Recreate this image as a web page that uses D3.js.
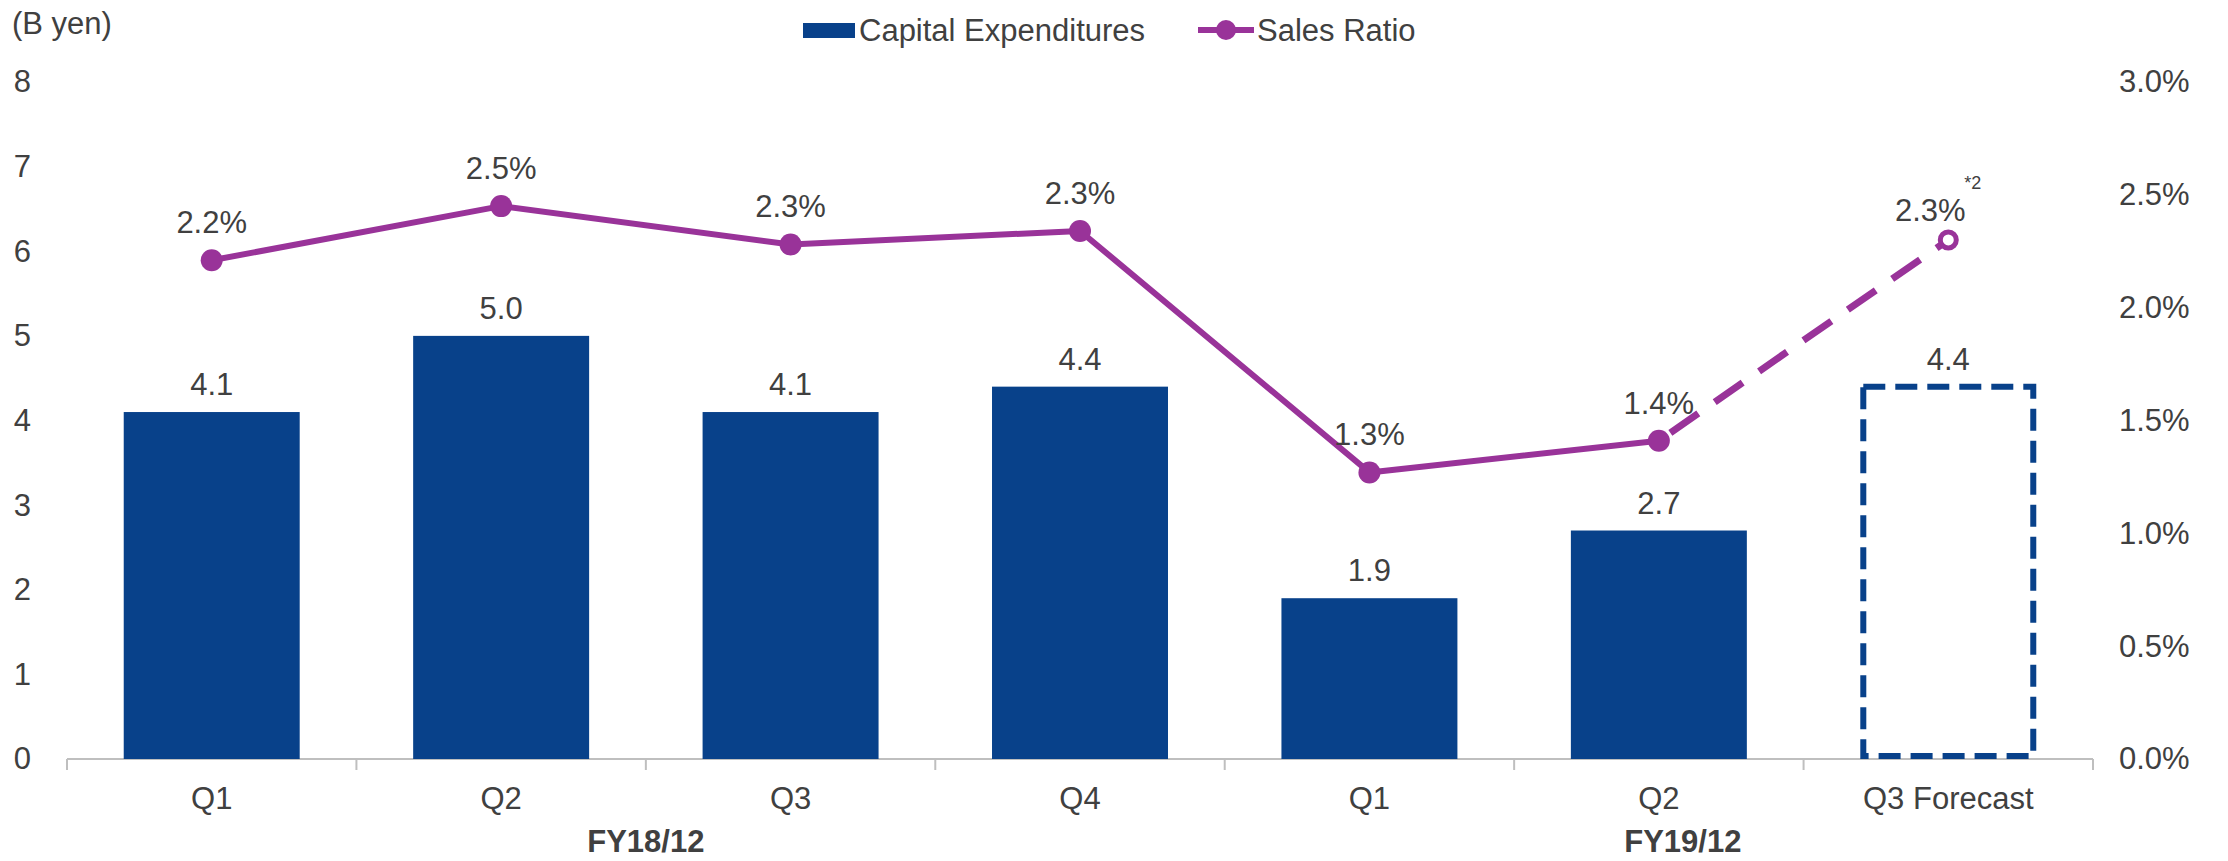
<!DOCTYPE html>
<html>
<head>
<meta charset="utf-8">
<script src="https://cdn.jsdelivr.net/npm/d3@7"></script>
<style>
  body { margin: 0; background: #fff; }
  text { font-family: "Liberation Sans", Arial, sans-serif; fill: #404040; }
</style>
</head>
<body>
<svg id="svg" width="2228" height="861"></svg>
<script>
// chart data
var categories = ["Q1", "Q2", "Q3", "Q4", "Q1", "Q2", "Q3 Forecast"];
var fiscalYears = ["FY18/12", "FY19/12"];
var yearOfCategory = [0, 0, 0, 0, 1, 1, 1];
var capex = [4.1, 5.0, 4.1, 4.4, 1.9, 2.7, 4.4];
var salesRatio = [2.21, 2.45, 2.28, 2.34, 1.27, 1.41, 2.30];
var ratioLabels = ["2.2%", "2.5%", "2.3%", "2.3%", "1.3%", "1.4%", "2.3%"];
var isForecast = [false, false, false, false, false, false, true];
var leftTicks = [0, 1, 2, 3, 4, 5, 6, 7, 8];
var rightTicks = [0, 0.5, 1.0, 1.5, 2.0, 2.5, 3.0];

var barColor = "#08418a",
    lineColor = "#993399",
    axisColor = "#bfbfbf",
    fontSize = "31px";

var svg = d3.select("#svg");

// scales
var idx = d3.range(categories.length);
var x = d3.scaleBand()
    .domain(idx)
    .range([67, 2093])
    .paddingInner(0.392)
    .paddingOuter(0.196);

var y = d3.scaleLinear().domain([0, 8]).range([759, 82]);
var y2 = d3.scaleLinear().domain([0, 3]).range([759, 82]);

// left axis
var leftAxis = svg.append("g")
    .attr("transform", "translate(31,0)")
    .call(d3.axisLeft(y).tickValues(leftTicks).tickSize(0).tickPadding(0));
leftAxis.select(".domain").remove();
leftAxis.selectAll("text").style("font-size", fontSize).attr("fill", "#404040");

// right axis
var rightAxis = svg.append("g")
    .attr("transform", "translate(2119,0)")
    .call(d3.axisRight(y2).tickValues(rightTicks).tickSize(0).tickPadding(0)
      .tickFormat(function(d) { return d.toFixed(1) + "%"; }));
rightAxis.select(".domain").remove();
rightAxis.selectAll("text").style("font-size", fontSize).attr("fill", "#404040");

svg.append("text")
    .attr("x", 12)
    .attr("y", 34)
    .style("font-size", fontSize)
    .text("(B yen)");

// bottom axis line and boundary ticks
var step = x.step(),
    half = step * x.paddingInner() / 2;
svg.append("line")
    .attr("x1", x.range()[0]).attr("x2", x.range()[1])
    .attr("y1", y(0)).attr("y2", y(0))
    .attr("stroke", axisColor).attr("stroke-width", 2);

var bounds = idx.map(function(i) { return x(i) - half; }).concat([x(idx.length - 1) + x.bandwidth() + half]);
svg.selectAll(".btick")
    .data(bounds)
    .enter().append("line")
      .attr("class", "btick")
      .attr("x1", function(d) { return d; }).attr("x2", function(d) { return d; })
      .attr("y1", y(0)).attr("y2", y(0) + 11)
      .attr("stroke", axisColor).attr("stroke-width", 2);

// category labels
svg.selectAll(".cat")
    .data(categories)
    .enter().append("text")
      .attr("class", "cat")
      .attr("x", function(d, i) { return x(i) + x.bandwidth() / 2; })
      .attr("y", 809)
      .attr("text-anchor", "middle")
      .style("font-size", fontSize)
      .text(function(d) { return d; });

// fiscal year labels
svg.selectAll(".fy")
    .data(fiscalYears)
    .enter().append("text")
      .attr("class", "fy")
      .attr("x", function(d, k) {
        var members = idx.filter(function(i) { return yearOfCategory[i] === k; });
        var lo = x(members[0]) - half,
            hi = x(members[members.length - 1]) + x.bandwidth() + half;
        return (lo + hi) / 2 + (k === 1 ? 24 : 0);
      })
      .attr("y", 852)
      .attr("text-anchor", "middle")
      .style("font-size", fontSize)
      .style("font-weight", "bold")
      .text(function(d) { return d; });

// bars
svg.selectAll(".bar")
    .data(idx.filter(function(i) { return !isForecast[i]; }))
    .enter().append("rect")
      .attr("class", "bar")
      .attr("x", function(i) { return x(i); })
      .attr("y", function(i) { return y(capex[i]); })
      .attr("width", x.bandwidth())
      .attr("height", function(i) { return y(0) - y(capex[i]); })
      .attr("fill", barColor);

// forecast bar (dashed outline)
svg.selectAll(".fbar")
    .data(idx.filter(function(i) { return isForecast[i]; }))
    .enter().append("rect")
      .attr("class", "fbar")
      .attr("x", function(i) { return x(i) + 3; })
      .attr("y", function(i) { return y(capex[i]); })
      .attr("width", x.bandwidth() - 6)
      .attr("height", function(i) { return y(0) - y(capex[i]) - 3; })
      .attr("fill", "none")
      .attr("stroke", barColor)
      .attr("stroke-width", 6)
      .attr("stroke-dasharray", "22,10");

// bar value labels
svg.selectAll(".barlabel")
    .data(idx)
    .enter().append("text")
      .attr("class", "barlabel")
      .attr("x", function(i) { return x(i) + x.bandwidth() / 2; })
      .attr("y", function(i) { return y(capex[i]) - 17; })
      .attr("text-anchor", "middle")
      .style("font-size", fontSize)
      .text(function(i) { return capex[i].toFixed(1); });

// sales ratio line
var cx = function(i) { return x(i) + x.bandwidth() / 2; };
var line = d3.line()
    .x(function(i) { return cx(i); })
    .y(function(i) { return y2(salesRatio[i]); });

var actual = idx.filter(function(i) { return !isForecast[i]; });
var lastActual = actual[actual.length - 1];
var forecastIdx = [lastActual].concat(idx.filter(function(i) { return isForecast[i]; }));

svg.append("path")
    .datum(actual)
    .attr("d", line)
    .attr("fill", "none")
    .attr("stroke", lineColor)
    .attr("stroke-width", 6)
    .attr("stroke-linejoin", "round");

svg.append("path")
    .datum(forecastIdx)
    .attr("d", line)
    .attr("fill", "none")
    .attr("stroke", lineColor)
    .attr("stroke-width", 7)
    .attr("stroke-dasharray", "34,20")
    .attr("stroke-dashoffset", -14);

svg.selectAll(".dot")
    .data(idx)
    .enter().append("circle")
      .attr("class", "dot")
      .attr("cx", cx)
      .attr("cy", function(i) { return y2(salesRatio[i]); })
      .attr("r", function(i) { return isForecast[i] ? 8 : 11; })
      .attr("fill", function(i) { return isForecast[i] ? "#fff" : lineColor; })
      .attr("stroke", lineColor)
      .attr("stroke-width", function(i) { return isForecast[i] ? 5 : 0; });

svg.selectAll(".ratiolabel")
    .data(idx)
    .enter().append("text")
      .attr("class", "ratiolabel")
      .attr("x", function(i) { return cx(i) - (isForecast[i] ? 18 : 0); })
      .attr("y", function(i) { return y2(salesRatio[i]) - (isForecast[i] ? 19 : 27); })
      .attr("text-anchor", "middle")
      .style("font-size", fontSize)
      .text(function(i) { return ratioLabels[i]; });

// footnote marker on forecast ratio
svg.selectAll(".note")
    .data(idx.filter(function(i) { return isForecast[i]; }))
    .enter().append("text")
      .attr("class", "note")
      .attr("x", function(i) { return cx(i) + 16; })
      .attr("y", function(i) { return y2(salesRatio[i]) - 51; })
      .style("font-size", "18px")
      .text("*2");

// legend
var legend = svg.append("g");
legend.append("rect")
    .attr("x", 803).attr("y", 23)
    .attr("width", 52).attr("height", 15)
    .attr("fill", barColor);
legend.append("text")
    .attr("x", 859).attr("y", 41)
    .style("font-size", fontSize)
    .text("Capital Expenditures");
legend.append("line")
    .attr("x1", 1198).attr("x2", 1254)
    .attr("y1", 30).attr("y2", 30)
    .attr("stroke", lineColor).attr("stroke-width", 6);
legend.append("circle")
    .attr("cx", 1226).attr("cy", 30).attr("r", 10)
    .attr("fill", lineColor);
legend.append("text")
    .attr("x", 1257).attr("y", 41)
    .style("font-size", fontSize)
    .text("Sales Ratio");
</script>
</body>
</html>
